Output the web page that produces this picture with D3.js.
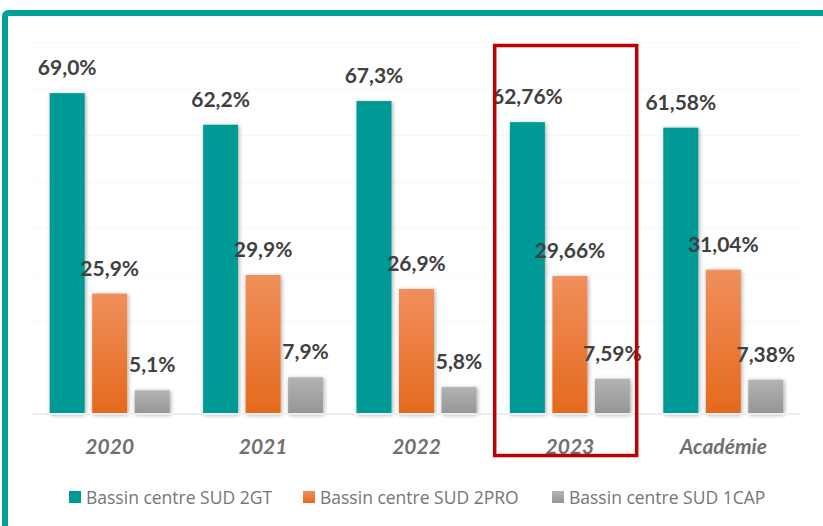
<!DOCTYPE html>
<html>
<head>
<meta charset="utf-8">
<script src="https://cdn.jsdelivr.net/npm/d3@7"></script>
<style>
  body { margin: 0; background: #fff; }
  svg { display: block; }
</style>
</head>
<body>
<div id="chart"></div>
<script>
// --- data ---
const categories = ['2020', '2021', '2022', '2023', 'Académie'];
const seriesNames = ['Bassin centre SUD 2GT', 'Bassin centre SUD 2PRO', 'Bassin centre SUD 1CAP'];
const gtValues = [69.0, 62.2, 67.3, 62.76, 61.58];
const proValues = [25.9, 29.9, 26.9, 29.66, 31.04];
const capValues = [5.1, 7.9, 5.8, 7.59, 7.38];
const gtLabels = ['69,0%', '62,2%', '67,3%', '62,76%', '61,58%'];
const proLabels = ['25,9%', '29,9%', '26,9%', '29,66%', '31,04%'];
const capLabels = ['5,1%', '7,9%', '5,8%', '7,59%', '7,38%'];
const highlighted = '2023';

const W = 823, H = 526;
const margin = { top: 42, right: 23, bottom: 112, left: 33 };
const plotW = W - margin.left - margin.right;
const plotH = H - margin.top - margin.bottom;

const svg = d3.select('#chart').append('svg')
  .attr('width', W)
  .attr('height', H);

const defs = svg.append('defs');
function vGrad(id, top, bottom) {
  const g = defs.append('linearGradient').attr('id', id)
    .attr('x1', 0).attr('y1', 0).attr('x2', 0).attr('y2', 1);
  g.append('stop').attr('offset', '0%').attr('stop-color', top);
  g.append('stop').attr('offset', '100%').attr('stop-color', bottom);
}
vGrad('gradGT', '#009a96', '#009a96');
vGrad('gradPRO', '#f08f5c', '#e5691c');
vGrad('gradCAP', '#b3b3b3', '#959595');

const shadow = defs.append('filter').attr('id', 'shadow')
  .attr('x', '-30%').attr('y', '-10%').attr('width', '160%').attr('height', '130%');
shadow.append('feDropShadow')
  .attr('dx', 1).attr('dy', 1).attr('stdDeviation', 2)
  .attr('flood-color', '#000').attr('flood-opacity', 0.35);

// frame (teal border on top and left)
svg.append('rect')
  .attr('x', 5).attr('y', 13)
  .attr('width', W + 20).attr('height', H + 20)
  .attr('rx', 3)
  .attr('fill', 'none')
  .attr('stroke', '#00a19b')
  .attr('stroke-width', 6);

const g = svg.append('g').attr('transform', `translate(${margin.left},${margin.top})`);

const y = d3.scaleLinear().domain([0, 80]).range([plotH, 0]);
const x0 = d3.scaleBand().domain(categories).range([0, plotW]).padding(0);
const series = [
  { name: seriesNames[0], values: gtValues, labels: gtLabels, fill: 'url(#gradGT)' },
  { name: seriesNames[1], values: proValues, labels: proLabels, fill: 'url(#gradPRO)' },
  { name: seriesNames[2], values: capValues, labels: capLabels, fill: 'url(#gradCAP)' }
];
const barW = 35, barGap = 7.5;
const x1 = d3.scaleBand().domain(d3.range(series.length))
  .range([x0.bandwidth() / 2 - (barW * 1.5 + barGap), x0.bandwidth() / 2 + (barW * 1.5 + barGap)])
  .paddingInner(barGap / (barW + barGap));

// gridlines (very faint)
g.append('g')
  .call(d3.axisLeft(y).tickValues(d3.range(10, 81, 10)).tickSize(-plotW).tickFormat(''))
  .call(s => s.select('.domain').remove())
  .call(s => s.selectAll('line').attr('stroke', '#f8f8f8').attr('stroke-width', 1));

// bars
series.forEach((s, si) => {
  const grp = g.append('g');
  grp.selectAll('rect')
    .data(categories)
    .enter().append('rect')
      .attr('x', c => x0(c) + x1(si))
      .attr('y', (c, i) => y(s.values[i]))
      .attr('width', x1.bandwidth())
      .attr('height', (c, i) => plotH - y(s.values[i]))
      .attr('fill', s.fill)
      .attr('filter', 'url(#shadow)');
  grp.selectAll('text')
    .data(categories)
    .enter().append('text')
      .attr('x', c => x0(c) + x1(si) + x1.bandwidth() / 2)
      .attr('y', (c, i) => y(s.values[i]) - 18)
      .attr('text-anchor', 'middle')
      .style('font-family', 'Lato, "Open Sans", sans-serif')
      .style('font-weight', 'bold')
      .style('font-size', '21px')
      .style('fill', '#404040')
      .text((c, i) => s.labels[i]);
});

// baseline
g.append('line')
  .attr('x1', 0).attr('x2', plotW)
  .attr('y1', plotH).attr('y2', plotH)
  .attr('stroke', '#eeeeee').attr('stroke-width', 2);

// category axis
const xAxis = g.append('g')
  .attr('transform', `translate(0,${plotH})`)
  .call(d3.axisBottom(x0).tickSize(0).tickPadding(25));
xAxis.select('.domain').remove();
xAxis.selectAll('text')
  .style('font-family', 'Lato, "Open Sans", sans-serif')
  .style('font-weight', 'bold')
  .style('font-style', 'italic')
  .style('font-size', '21px')
  .style('fill', '#707070');

// highlight box for 2023
g.append('rect')
  .attr('x', x0(highlighted) + 1.5)
  .attr('y', 3.5)
  .attr('width', 142)
  .attr('height', 410)
  .attr('fill', 'none')
  .attr('stroke', '#c00000')
  .attr('stroke-width', 3.5);

// legend
const legendX = [69, 303, 552];
const legend = svg.append('g').attr('transform', 'translate(0,497)');
series.forEach((s, i) => {
  const item = legend.append('g').attr('transform', `translate(${legendX[i]},0)`);
  item.append('rect')
    .attr('x', 0).attr('y', -6)
    .attr('width', 12).attr('height', 12)
    .attr('fill', s.fill);
  item.append('text')
    .attr('x', 17).attr('y', 6.5)
    .style('font-family', '"Open Sans", sans-serif')
    .style('font-size', '17.5px')
    .style('fill', '#757575')
    .text(s.name);
});
</script>
</body>
</html>
